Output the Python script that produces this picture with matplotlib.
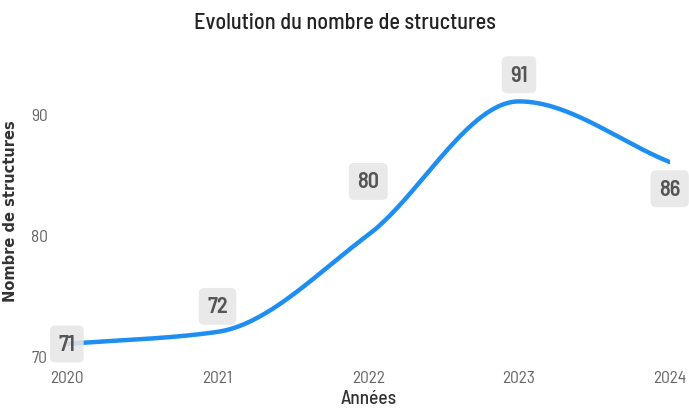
import numpy as np
import matplotlib
matplotlib.use('Agg')
import matplotlib.pyplot as plt

# data
years = [2020, 2021, 2022, 2023, 2024]
counts = [71, 72, 80, 91, 86]
# vertical offset of each value label (data units)
label_dy = [0, 2.1, 4.4, 2.2, -2.2]

FONT = ['Barlow Semi Condensed', 'DejaVu Sans']


def monotone_curve(x, y, n=200):
    """Monotone cubic (Fritsch-Carlson) so the line is smooth without overshoot."""
    x = np.asarray(x, float)
    y = np.asarray(y, float)
    h = np.diff(x)
    d = np.diff(y) / h
    m = np.zeros_like(y)
    m[0], m[-1] = d[0], d[-1]
    for i in range(1, len(y) - 1):
        if d[i - 1] * d[i] <= 0:
            m[i] = 0
        else:
            m[i] = 2 / (1 / d[i - 1] + 1 / d[i])
    xs, ys = [], []
    for i in range(len(x) - 1):
        t = np.linspace(0, 1, n)
        h00 = 2 * t**3 - 3 * t**2 + 1
        h10 = t**3 - 2 * t**2 + t
        h01 = -2 * t**3 + 3 * t**2
        h11 = t**3 - t**2
        xs.append(x[i] + t * h[i])
        ys.append(h00 * y[i] + h10 * h[i] * m[i] + h01 * y[i + 1] + h11 * h[i] * m[i + 1])
    return np.concatenate(xs), np.concatenate(ys)


fig = plt.figure(figsize=(6.89, 4.10), dpi=100)
ax = fig.add_axes([0.097, 0.129, 0.875, 0.71])

cx, cy = monotone_curve(years, counts)
ax.plot(cx, cy, color='#1E8FF0', linewidth=3.2, solid_capstyle='round', zorder=2)

for x, y, dy in zip(years, counts, label_dy):
    ax.text(x, y + dy, str(y), ha='center', va='center', fontsize=16,
            fontweight='semibold', color='#555555', family=FONT, zorder=3,
            bbox=dict(boxstyle='round,pad=0.38,rounding_size=0.25',
                      facecolor='#E6E6E6', edgecolor='none', alpha=0.88))

ax.set_xlim(2020, 2024)
ax.set_ylim(70, 94)
ax.set_xticks(years)
ax.set_xticklabels([str(y) for y in years], family=FONT, fontsize=12.5, color='#666666')
ax.set_yticks([70, 80, 90])
ax.set_yticklabels(['70', '80', '90'], family=FONT, fontsize=12.5, color='#666666')
ax.tick_params(axis='x', length=0, pad=10)
ax.tick_params(axis='y', length=0, pad=14)
for s in ax.spines.values():
    s.set_visible(False)

ax.set_xlabel('Années', family=FONT, fontsize=14, fontweight='medium',
              color='#333333', labelpad=3)
ax.set_ylabel('Nombre de structures', fontsize=10.5, fontweight='bold',
              color='#333333', labelpad=9)
fig.text(0.5, 0.945, 'Evolution du nombre de structures', ha='center', va='center',
         family=FONT, fontsize=16, fontweight='medium', color='#222222')

fig.savefig('out.png', dpi=100)
